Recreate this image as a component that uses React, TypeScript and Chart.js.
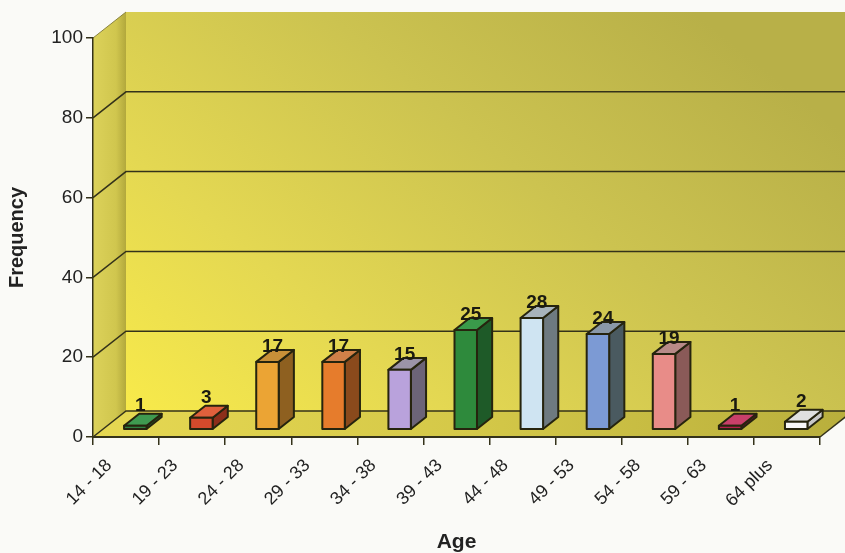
import React, { useEffect, useRef } from "react";
import { Chart, registerables } from "chart.js";

Chart.register(...registerables);

const categories = ["14 - 18", "19 - 23", "24 - 28", "29 - 33", "34 - 38", "39 - 43", "44 - 48", "49 - 53", "54 - 58", "59 - 63", "64 plus"];
const frequencies = [1, 3, 17, 17, 15, 25, 28, 24, 19, 1, 2];
const yTicks = [0, 20, 40, 60, 80, 100];
const frontColors = ["#2f8040", "#d44a2c", "#eba434", "#e67c2c", "#b9a2dc", "#2e8a3c", "#cfe4f2", "#7c9ad4", "#e88c88", "#b4204c", "#f8f8f8"];
const sideColors = ["#1f5a2c", "#8c2e1a", "#8e6020", "#8a4a1c", "#6c6478", "#1e5a28", "#6e7a80", "#4a5a60", "#8a5a58", "#6a1030", "#c8c8c8"];
const topColors = ["#3f9a50", "#e0603c", "#c89038", "#d08048", "#9c94a8", "#3a9a4a", "#a8b4bc", "#8a98a8", "#b88a88", "#c8406a", "#e0e0e0"];

const FONT = "'Liberation Sans', Arial, sans-serif";
const DX = 33;
const DY = -26;
const F0 = 0.28;
const F1 = 0.74;
const LINE = "#34321a";

const walls3d = {
  id: "walls3d",
  beforeDraw(chart: any) {
    const { ctx, chartArea } = chart;
    const L = chartArea.left, R = chartArea.right, T = chartArea.top, B = chartArea.bottom;
    const ys = chart.scales.y;
    ctx.save();
    ctx.fillStyle = "#fafaf7";
    ctx.fillRect(0, 0, chart.width, chart.height);

    // back wall
    const g = ctx.createLinearGradient(L + DX, B + DY, L + DX + 420, T + DY - 120);
    g.addColorStop(0, "#f8ea4a");
    g.addColorStop(0.3, "#e4d852");
    g.addColorStop(0.65, "#ccc350");
    g.addColorStop(1, "#b8b048");
    ctx.fillStyle = g;
    ctx.fillRect(L + DX, T + DY, R - L + 40, B - T);

    // left wall
    const gl = ctx.createLinearGradient(L, 0, L + DX, 0);
    gl.addColorStop(0, "#dcd25a");
    gl.addColorStop(0.7, "#d0c64e");
    gl.addColorStop(1, "#b2a83c");
    ctx.fillStyle = gl;
    ctx.beginPath();
    ctx.moveTo(L, T);
    ctx.lineTo(L + DX, T + DY);
    ctx.lineTo(L + DX, B + DY);
    ctx.lineTo(L, B);
    ctx.closePath();
    ctx.fill();

    // floor
    const gf = ctx.createLinearGradient(L, 0, R + DX, 0);
    gf.addColorStop(0, "#e6d852");
    gf.addColorStop(0.5, "#d4c848");
    gf.addColorStop(1, "#b8ae3c");
    ctx.fillStyle = gf;
    ctx.beginPath();
    ctx.moveTo(L, B);
    ctx.lineTo(R, B);
    ctx.lineTo(R + DX, B + DY);
    ctx.lineTo(L + DX, B + DY);
    ctx.closePath();
    ctx.fill();

    // grid lines on left + back wall
    ctx.strokeStyle = LINE;
    ctx.lineWidth = 1.5;
    yTicks.forEach((v) => {
      if (v === 100) return;
      const py = ys.getPixelForValue(v);
      ctx.beginPath();
      ctx.moveTo(L, py);
      ctx.lineTo(L + DX, py + DY);
      ctx.lineTo(R + DX + 40, py + DY);
      ctx.stroke();
    });
    // top edge of left wall
    const pt = ys.getPixelForValue(100);
    ctx.strokeStyle = "#8a8440";
    ctx.lineWidth = 1;
    ctx.beginPath();
    ctx.moveTo(L, pt);
    ctx.lineTo(L + DX, pt + DY);
    ctx.stroke();
    // floor right edge
    ctx.strokeStyle = LINE;
    ctx.lineWidth = 1.5;
    ctx.beginPath();
    ctx.moveTo(R, B);
    ctx.lineTo(R + DX, B + DY);
    ctx.stroke();
    ctx.restore();
  },
  afterDatasetsDraw(chart: any) {
    const { ctx } = chart;
    const meta = chart.getDatasetMeta(0);
    ctx.save();
    ctx.lineWidth = 2;
    ctx.strokeStyle = "#26240e";
    ctx.lineJoin = "round";
    meta.data.forEach((el: any, i: number) => {
      const p = el.getProps(["x", "y", "base", "width"], true);
      const x0 = p.x - p.width / 2 + F0 * DX;
      const x1 = p.x + p.width / 2 + F0 * DX;
      const yt = p.y + F0 * DY;
      const yb = p.base + F0 * DY;
      const ddx = (F1 - F0) * DX;
      const ddy = (F1 - F0) * DY;
      // side
      ctx.fillStyle = sideColors[i];
      ctx.beginPath();
      ctx.moveTo(x1, yt);
      ctx.lineTo(x1 + ddx, yt + ddy);
      ctx.lineTo(x1 + ddx, yb + ddy);
      ctx.lineTo(x1, yb);
      ctx.closePath();
      ctx.fill();
      ctx.stroke();
      // top
      ctx.fillStyle = topColors[i];
      ctx.beginPath();
      ctx.moveTo(x0, yt);
      ctx.lineTo(x1, yt);
      ctx.lineTo(x1 + ddx, yt + ddy);
      ctx.lineTo(x0 + ddx, yt + ddy);
      ctx.closePath();
      ctx.fill();
      ctx.stroke();
      // front
      ctx.fillStyle = frontColors[i];
      ctx.beginPath();
      ctx.rect(x0, yt, x1 - x0, yb - yt);
      ctx.fill();
      ctx.stroke();
      // value label
      ctx.fillStyle = "#1a1a10";
      ctx.font = "bold 19px " + FONT;
      ctx.textAlign = "center";
      ctx.textBaseline = "bottom";
      const lift = frequencies[i] < 10 ? 10 : 6;
      ctx.fillText(String(frequencies[i]), (x0 + x1) / 2 + 5, yt - lift);
    });
    ctx.restore();
  },
};

export default function App() {
  const ref = useRef<HTMLCanvasElement>(null);
  useEffect(() => {
    document.body.style.margin = "0";
    const chart = new Chart(ref.current!, {
      type: "bar",
      data: {
        labels: categories,
        datasets: [
          {
            label: "Frequency",
            data: frequencies,
            backgroundColor: "rgba(0,0,0,0)",
            borderWidth: 0,
            barPercentage: 0.34,
            categoryPercentage: 1,
          },
        ],
      },
      options: {
        animation: false,
        responsive: false,
        events: [],
        layout: { padding: { left: 0, top: 38, right: 25, bottom: 0 } },
        plugins: { legend: { display: false }, tooltip: { enabled: false } },
        scales: {
          x: {
            afterFit: (s: any) => { s.height = 116; },
            grid: { offset: true, drawOnChartArea: false, drawTicks: true, tickLength: 8, color: LINE, lineWidth: 1.5 },
            border: { display: true, color: LINE, width: 2 },
            ticks: { minRotation: 45, maxRotation: 45, color: "#222", padding: 10, labelOffset: -17, font: { family: FONT, size: 18 } },
            title: { display: true, text: "Age", color: "#222", padding: { top: 0, bottom: -2 }, font: { family: FONT, size: 21, weight: "bold" } },
          },
          y: {
            min: 0,
            max: 100,
            afterFit: (s: any) => { s.width = 93; },
            afterBuildTicks: (s: any) => { s.ticks = yTicks.map((v) => ({ value: v })); },
            grid: { drawOnChartArea: false, drawTicks: true, tickLength: 7, color: LINE, lineWidth: 1.5 },
            border: { display: true, color: LINE, width: 1.5 },
            ticks: { color: "#222", padding: 3, font: { family: FONT, size: 19 } },
            title: { display: true, text: "Frequency", color: "#222", padding: { top: 5, bottom: 0 }, font: { family: FONT, size: 20, weight: "bold" } },
          },
        },
      },
      plugins: [walls3d],
    } as any);
    return () => chart.destroy();
  }, []);
  return (
    <div style={{ position: "absolute", left: 0, top: 0, width: 845, height: 553 }}>
      <canvas ref={ref} width={845} height={553} style={{ display: "block" }} />
    </div>
  );
}
